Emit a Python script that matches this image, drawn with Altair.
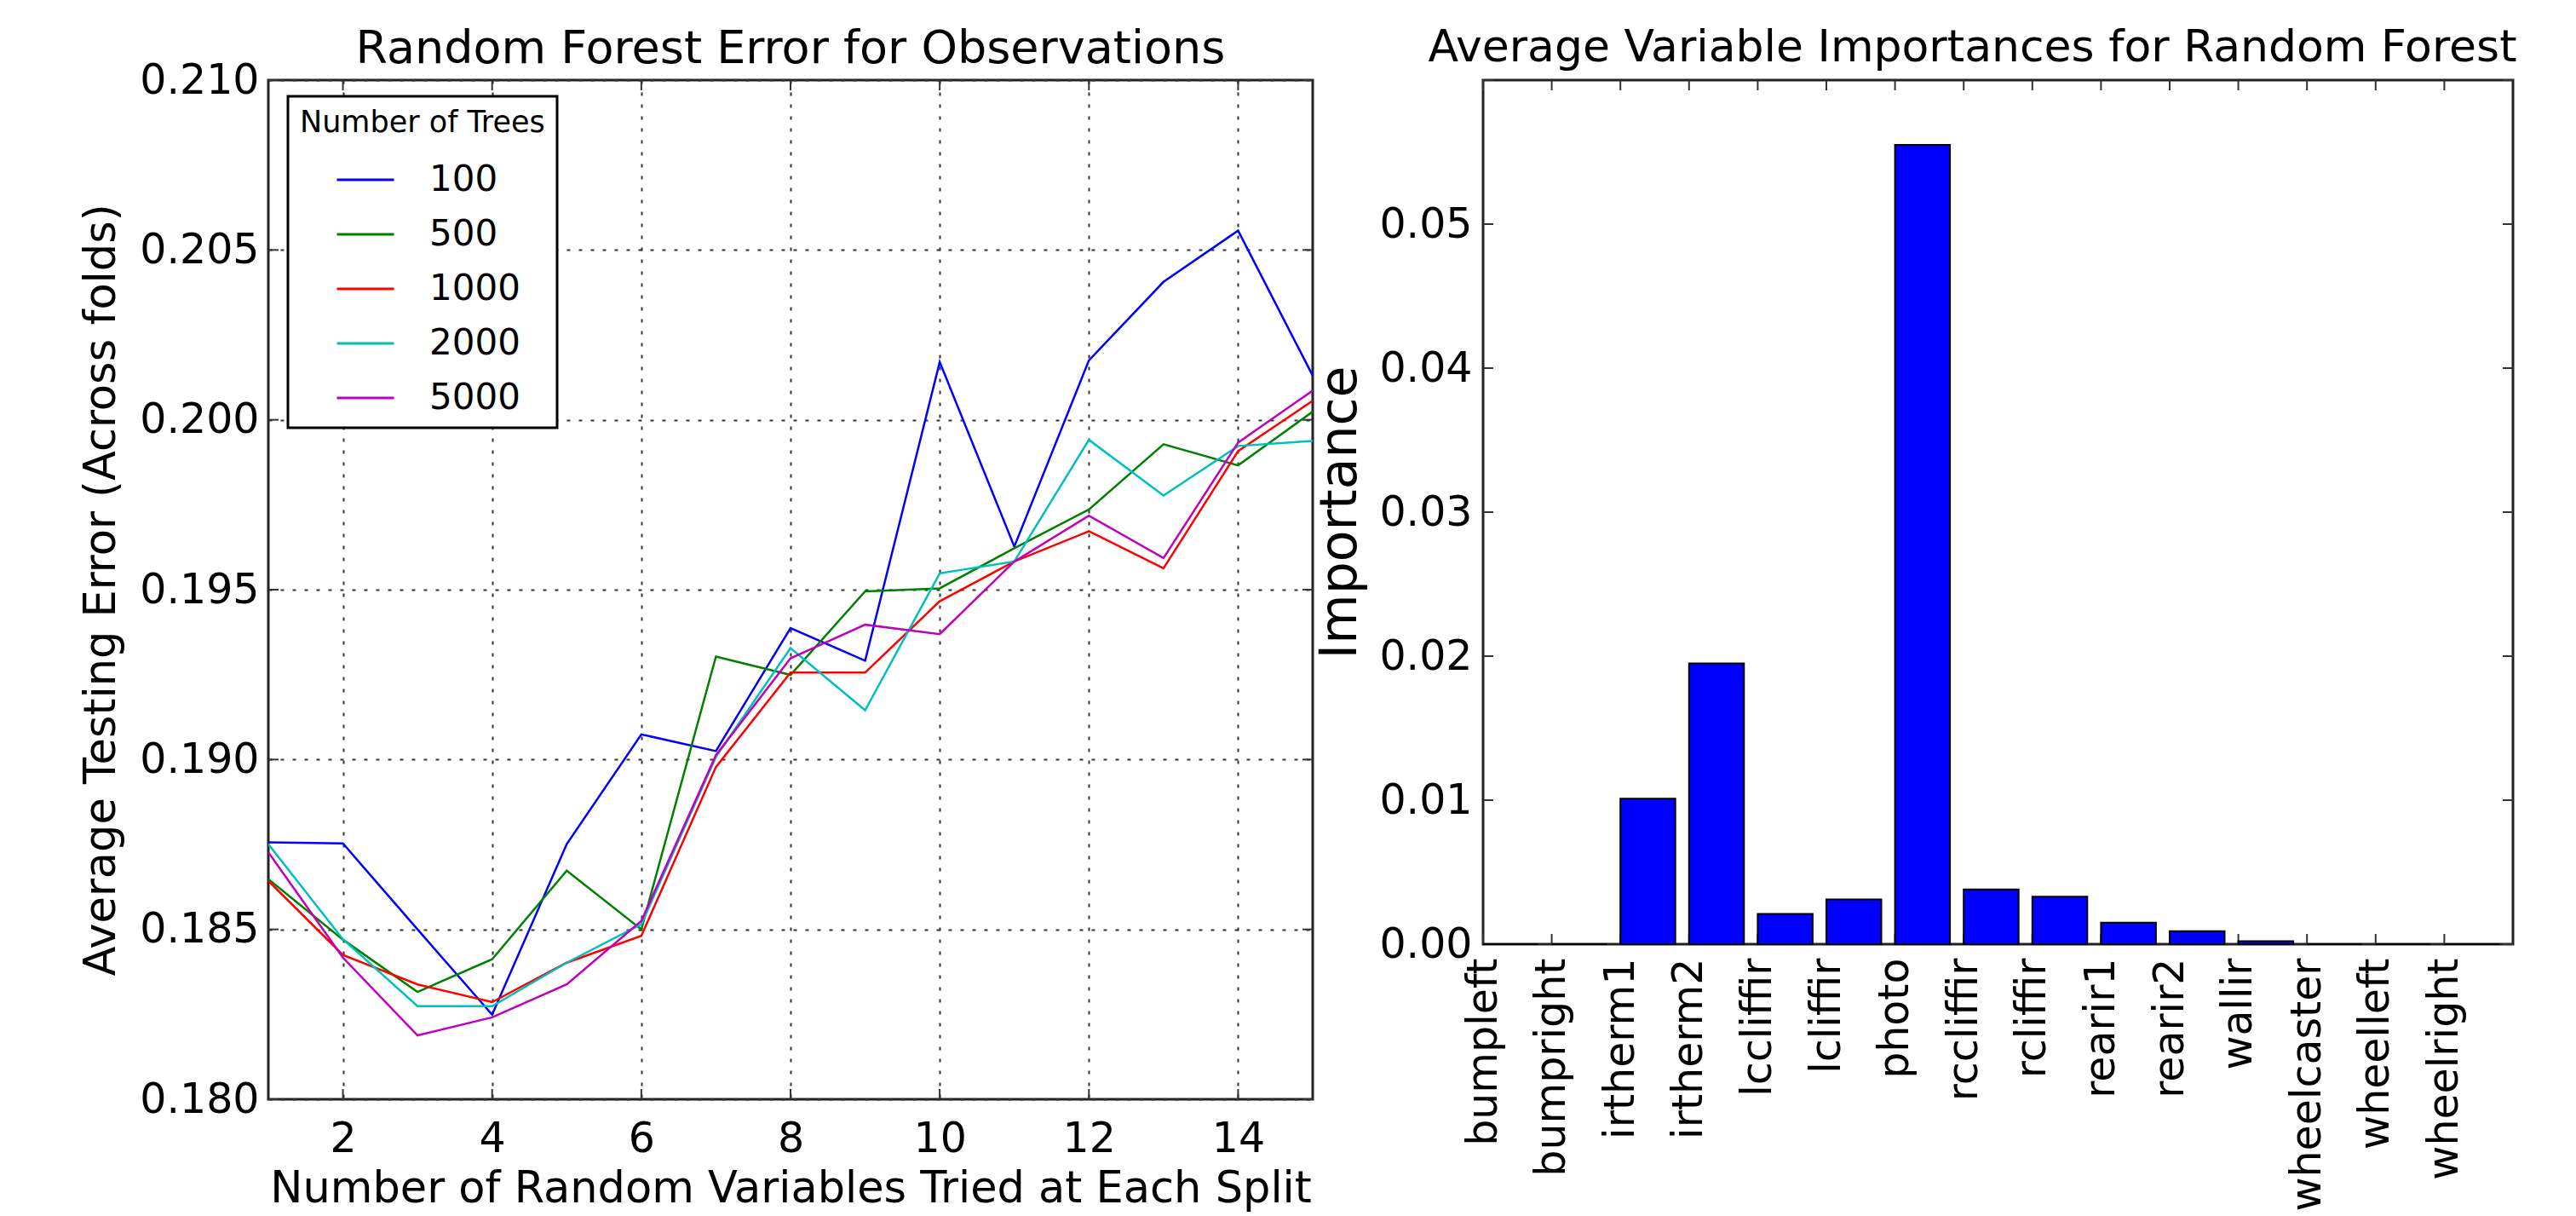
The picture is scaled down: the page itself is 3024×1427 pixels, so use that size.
import altair as alt
import pandas as pd

# ---------------- data ----------------
mtry = list(range(1, 16))
tree_counts = ["100", "500", "1000", "2000", "5000"]
tree_colors = ["#0000ff", "#008000", "#ff0000", "#00bfbf", "#bf00bf"]

err_100 = [0.18756, 0.18753, 0.18500, 0.18249, 0.18751, 0.19074, 0.19025, 0.19387,
           0.19291, 0.20170, 0.19627, 0.20175, 0.20406, 0.20557, 0.20130]
err_500 = [0.18648, 0.18470, 0.18316, 0.18412, 0.18673, 0.18500, 0.19303, 0.19249,
           0.19495, 0.19504, 0.19622, 0.19736, 0.19928, 0.19866, 0.20024]
err_1000 = [0.18643, 0.18425, 0.18338, 0.18286, 0.18402, 0.18481, 0.18978, 0.19256,
            0.19256, 0.19466, 0.19583, 0.19672, 0.19563, 0.19908, 0.20056]
err_2000 = [0.18751, 0.18471, 0.18274, 0.18274, 0.18402, 0.18515, 0.19008, 0.19328,
            0.19145, 0.19548, 0.19583, 0.19941, 0.19777, 0.19923, 0.19938]
err_5000 = [0.18727, 0.18417, 0.18188, 0.18241, 0.18338, 0.18525, 0.19013, 0.19298,
            0.19397, 0.19369, 0.19583, 0.19718, 0.19593, 0.19933, 0.20086]

x_ticks_left = [2, 4, 6, 8, 10, 12, 14]
y_ticks_left = [0.180, 0.185, 0.190, 0.195, 0.200, 0.205, 0.210]

variables = ["bumpleft", "bumpright", "irtherm1", "irtherm2", "lccliffir", "lcliffir",
             "photo", "rccliffir", "rcliffir", "rearir1", "rearir2", "wallir",
             "wheelcaster", "wheelleft", "wheelright"]
importance = [0.0, 0.0, 0.0101, 0.0195, 0.0021, 0.0031, 0.0555, 0.0038, 0.0033,
              0.0015, 0.0009, 0.0002, 0.0, 0.0, 0.0]
y_ticks_right = [0.00, 0.01, 0.02, 0.03, 0.04, 0.05, 0.06]

# ---------------- frames ----------------
series = {"100": err_100, "500": err_500, "1000": err_1000, "2000": err_2000, "5000": err_5000}
rows = []
for k in tree_counts:
    for m, e in zip(mtry, series[k]):
        rows.append({"mtry": m, "error": e, "trees": k})
df_err = pd.DataFrame(rows)
df_xt = pd.DataFrame({"mtry": x_ticks_left})
df_yt = pd.DataFrame({"error": y_ticks_left})

df_imp = pd.DataFrame({"variable": variables, "importance": importance})
df_imp["pos"] = list(range(len(variables)))
df_imp["pos_end"] = df_imp["pos"] + 0.8
df_xt_r = pd.DataFrame({"pos": list(range(len(variables)))})
df_yt_r = pd.DataFrame({"importance": y_ticks_right})

FONT = "DejaVu Sans"
LW, LH = 1226, 1196
RW, RH = 1209, 1014
TICK = 12

xs_left = alt.Scale(domain=[1, 15], nice=False, zero=False)
ys_left = alt.Scale(domain=[0.18, 0.21], nice=False, zero=False)

grid_kw = dict(grid=True, gridDash=[4, 10], gridColor="#333333", gridWidth=2, gridOpacity=1)

lines = alt.Chart(df_err).mark_line(strokeWidth=2.5, clip=True).encode(
    x=alt.X("mtry:Q", scale=xs_left,
            axis=alt.Axis(values=x_ticks_left, format="d",
                          title="Number of Random Variables Tried at Each Split",
                          titleFontSize=51, ticks=False, domain=False, labelPadding=22,
                          titlePadding=9, **grid_kw)),
    y=alt.Y("error:Q", scale=ys_left,
            axis=alt.Axis(values=y_ticks_left, format=".3f",
                          title="Average Testing Error (Across folds)", titleFontSize=51,
                          ticks=False, domain=False, labelPadding=11, titlePadding=18, **grid_kw)),
    color=alt.Color("trees:N", scale=alt.Scale(domain=tree_counts, range=tree_colors),
                    legend=alt.Legend(title="Number of Trees", orient="none", legendX=23, legendY=19)),
)

yt_l1 = alt.Chart(df_yt).mark_rule(color="#333333", strokeWidth=2).encode(
    y=alt.Y("error:Q", scale=ys_left), x=alt.value(0), x2=alt.value(TICK))
yt_l2 = alt.Chart(df_yt).mark_rule(color="#333333", strokeWidth=2).encode(
    y=alt.Y("error:Q", scale=ys_left), x=alt.value(LW - TICK), x2=alt.value(LW))
xt_l1 = alt.Chart(df_xt).mark_rule(color="#333333", strokeWidth=2).encode(
    x=alt.X("mtry:Q", scale=xs_left), y=alt.value(LH - TICK), y2=alt.value(LH))
xt_l2 = alt.Chart(df_xt).mark_rule(color="#333333", strokeWidth=2).encode(
    x=alt.X("mtry:Q", scale=xs_left), y=alt.value(0), y2=alt.value(TICK))

left = alt.layer(yt_l1, yt_l2, xt_l1, xt_l2, lines).properties(
    width=LW, height=LH,
    title=alt.TitleParams("Random Forest Error for Observations", anchor="middle",
                          frame="group", fontSize=54, offset=-15),
)

# ---------------- right chart ----------------
xs_right = alt.Scale(domain=[0, 15], nice=False, zero=False)
ys_right = alt.Scale(domain=[0, 0.06], nice=False)
label_js = "[" + ",".join("'" + v + "'" for v in variables) + "][datum.value]"

bars = alt.Chart(df_imp).mark_bar(color="#0000ff", stroke="#000000", strokeWidth=2).encode(
    x=alt.X("pos:Q", scale=xs_right,
            axis=alt.Axis(values=list(range(len(variables))), labelExpr=label_js, labelAngle=270,
                          labelLimit=1000, title=None, ticks=False, domain=False, grid=False,
                          labelPadding=16)),
    x2="pos_end:Q",
    y=alt.Y("importance:Q", scale=ys_right,
            axis=alt.Axis(values=y_ticks_right[:-1], format=".2f", title="Importance",
                          titleFontSize=60, ticks=False, domain=False, grid=False,
                          labelPadding=13, titlePadding=14)),
    y2=alt.datum(0),
)

yt_r1 = alt.Chart(df_yt_r).mark_rule(color="#333333", strokeWidth=2).encode(
    y=alt.Y("importance:Q", scale=ys_right), x=alt.value(0), x2=alt.value(TICK))
yt_r2 = alt.Chart(df_yt_r).mark_rule(color="#333333", strokeWidth=2).encode(
    y=alt.Y("importance:Q", scale=ys_right), x=alt.value(RW - TICK), x2=alt.value(RW))
xt_r1 = alt.Chart(df_xt_r).mark_rule(color="#333333", strokeWidth=2).encode(
    x=alt.X("pos:Q", scale=xs_right), y=alt.value(RH - TICK), y2=alt.value(RH))
xt_r2 = alt.Chart(df_xt_r).mark_rule(color="#333333", strokeWidth=2).encode(
    x=alt.X("pos:Q", scale=xs_right), y=alt.value(0), y2=alt.value(TICK))

right = alt.layer(yt_r1, yt_r2, xt_r1, xt_r2, bars).properties(
    width=RW, height=RH,
    title=alt.TitleParams("Average Variable Importances for Random Forest", anchor="middle",
                          frame="group", fontSize=52, offset=10, dx=-30),
)

chart = alt.hconcat(left, right, spacing=200, bounds="flush").properties(
    padding={"left": 84, "top": 20, "right": 5, "bottom": 0}
).configure(
    font=FONT,
).configure_view(
    stroke="#222222", strokeWidth=3,
).configure_title(
    font=FONT, fontWeight="normal", color="#000000",
).configure_axis(
    labelFont=FONT, labelFontSize=49, labelColor="#000000",
    titleFont=FONT, titleFontWeight="normal", titleColor="#000000",
    labelOverlap=False, labelFlush=False, labelLimit=1000, titleLimit=2000,
).configure_legend(
    titleFont=FONT, titleFontSize=35, titleFontWeight="normal", titleColor="#000000",
    titleLimit=1000, labelLimit=1000,
    labelFont=FONT, labelFontSize=42, labelColor="#000000",
    symbolType="stroke", symbolSize=4489, symbolStrokeWidth=3,
    symbolOffset=42, labelOffset=40, rowPadding=8, padding=14, titlePadding=14,
    strokeColor="#000000", strokeWidth=3, fillColor="#ffffff",
)

chart.save("out.html", embed_options={"renderer": "svg", "actions": False})
